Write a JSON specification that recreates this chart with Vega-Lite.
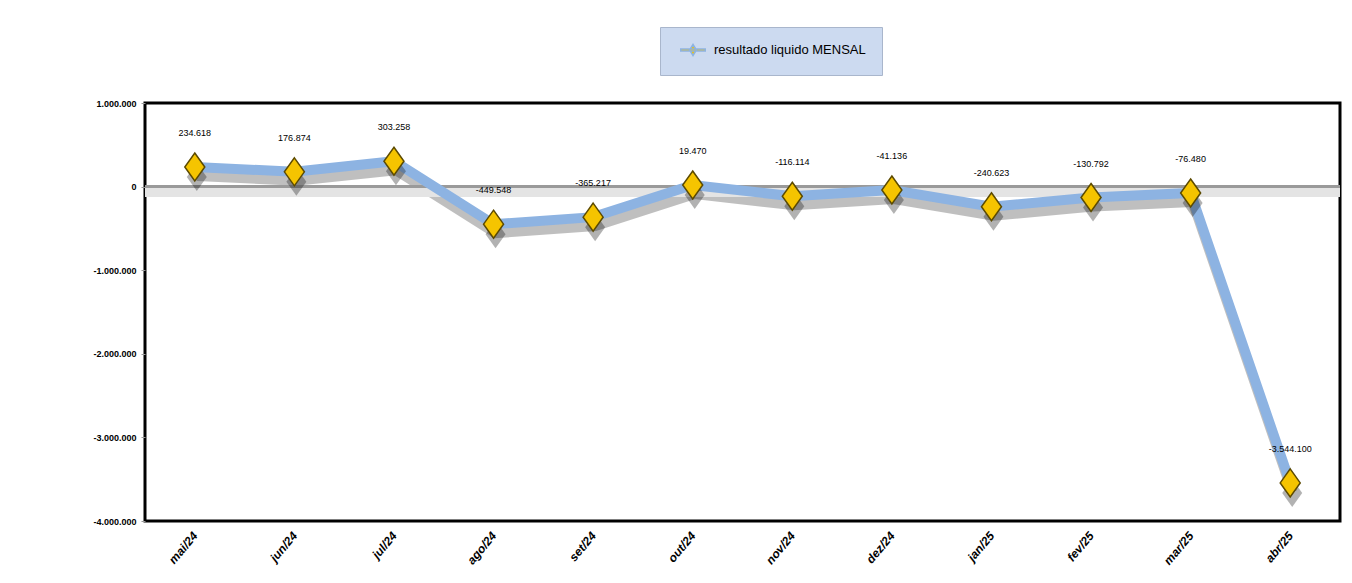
{
  "$schema": "https://vega.github.io/schema/vega-lite/v6.json",
  "width": 1195,
  "height": 418,
  "autosize": {"type": "none"},
  "padding": {"left": 145, "top": 103, "right": 12, "bottom": 62},
  "background": "white",
  "config": {
    "locale": {"number": {"decimal": ",", "thousands": ".", "grouping": [3], "currency": ["R$", ""], "minus": "-"}},
    "view": {"stroke": "#000", "strokeWidth": 3},
    "font": "Liberation Sans"
  },
  "data": {
    "values": [
      {"mes": "mai/24", "valor": 234618},
      {"mes": "jun/24", "valor": 176874},
      {"mes": "jul/24", "valor": 303258},
      {"mes": "ago/24", "valor": -449548},
      {"mes": "set/24", "valor": -365217},
      {"mes": "out/24", "valor": 19470},
      {"mes": "nov/24", "valor": -116114},
      {"mes": "dez/24", "valor": -41136},
      {"mes": "jan/25", "valor": -240623},
      {"mes": "fev/25", "valor": -130792},
      {"mes": "mar/25", "valor": -76480},
      {"mes": "abr/25", "valor": -3544100}
    ]
  },
  "layer": [
    {
      "mark": {"type": "line", "color": "#000", "opacity": 0.25, "strokeWidth": 10, "yOffset": 9, "xOffset": 2},
      "encoding": {
        "x": {
          "field": "mes", "type": "nominal", "sort": null,
          "scale": {"type": "point", "padding": 0.5},
          "axis": {
            "title": null, "labelAngle": -50, "labelFontStyle": "italic", "labelFontWeight": "bold",
            "labelFontSize": 12, "labelColor": "#000", "labelPadding": 12, "ticks": false, "domain": false,
            "labelFont": "Liberation Sans"
          }
        },
        "y": {
          "field": "valor", "type": "quantitative",
          "scale": {"domain": [-4000000, 1000000], "nice": false, "zero": false},
          "axis": {
            "title": null, "values": [1000000, 0, -1000000, -2000000, -3000000, -4000000], "format": ",.0f",
            "grid": false, "domain": false, "labelFont": "Liberation Sans", "labelFontWeight": "bold",
            "labelFontSize": 9, "labelColor": "#000", "tickColor": "#999", "tickSize": 4, "labelPadding": 5
          }
        }
      }
    },
    {
      "mark": {"type": "rule", "color": "#e4e4e4", "strokeWidth": 8, "yOffset": 6},
      "encoding": {"y": {"datum": 0, "type": "quantitative"}}
    },
    {
      "mark": {"type": "rule", "color": "#9a9a9a", "strokeWidth": 2},
      "encoding": {"y": {"datum": 0, "type": "quantitative"}}
    },
    {
      "mark": {"type": "line", "strokeWidth": 10},
      "encoding": {
        "x": {"field": "mes", "type": "nominal", "sort": null},
        "y": {"field": "valor", "type": "quantitative"},
        "color": {
          "datum": "resultado liquido MENSAL",
          "scale": {"range": ["#8DB3E2"]},
          "legend": {
            "orient": "none", "legendX": 515, "legendY": -76, "title": null,
            "fillColor": "#CCDAF0", "strokeColor": "#A9B6CC", "padding": 16,
            "labelFontSize": 13, "labelFont": "Liberation Sans", "labelColor": "#000",
            "symbolType": "M-2,-0.18L2,-0.18L2,0.18L-2,0.18Z M0,-0.9L0.55,0L0,0.9L-0.55,0Z",
            "symbolSize": 150, "symbolFillColor": "#F5C400", "symbolStrokeColor": "#8DB3E2",
            "symbolOpacity": 1, "symbolStrokeWidth": 1.5, "symbolOffset": 10, "labelOffset": 14
          }
        }
      }
    },
    {
      "mark": {"type": "point", "shape": "M0,-1.4L1,0L0,1.4L-1,0Z", "size": 400, "filled": true, "color": "#000", "opacity": 0.3, "yOffset": 10, "xOffset": 2},
      "encoding": {
        "x": {"field": "mes", "type": "nominal", "sort": null},
        "y": {"field": "valor", "type": "quantitative"}
      }
    },
    {
      "mark": {"type": "point", "shape": "M0,-1.4L1,0L0,1.4L-1,0Z", "size": 400, "filled": true, "fill": "#F5C400", "stroke": "#5C4A00", "strokeWidth": 1.5, "opacity": 1},
      "encoding": {
        "x": {"field": "mes", "type": "nominal", "sort": null},
        "y": {"field": "valor", "type": "quantitative"}
      }
    },
    {
      "mark": {"type": "text", "dy": -34, "fontSize": 9, "font": "Liberation Sans", "color": "#000"},
      "encoding": {
        "x": {"field": "mes", "type": "nominal", "sort": null},
        "y": {"field": "valor", "type": "quantitative"},
        "text": {"field": "valor", "type": "quantitative", "format": ","}
      }
    }
  ]
}
